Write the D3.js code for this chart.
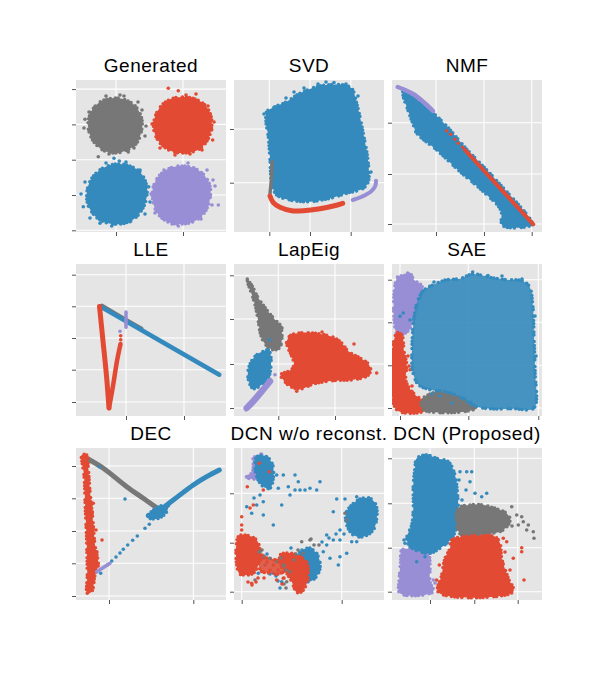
<!DOCTYPE html>
<html>
<head>
<meta charset="utf-8">
<script src="https://cdn.jsdelivr.net/npm/d3@7"></script>
<style>
body { margin: 0; background: #fff; }
text { font-family: "Liberation Sans", Arial, sans-serif; }
</style>
</head>
<body>
<svg id="fig" width="602" height="676"></svg>
<script>
// values; each panel uses units x 0..150, y 0..152

// --- Generated
var genXTicks = [40, 107];
var genYTicks = [1.7, 37, 72.3, 107.6, 142.9];
var genGrey = [[39,134],[52,131],[61,124],[66,112],[65,99],[60,88],[49,81],[37,79],[25,83],[16,93],[12,106],[15,120],[24,130]];
var genGreyDots = [[22.3,75.3],[44,137],[70,106],[9,112.7],[52.3,80],[30,136],[66,122],[13,120],[58,84],[33,78],[69,96],[48,136],[8,104],[62,130]];
var genRed = [[106,135],[119,133],[129,127],[135,116],[135.5,104],[131,91],[122,82],[108,79],[95,81],[84,89],[78,101],[79,115],[86,127],[95,133]];
var genRedDots = [[92.3,143.7],[102.3,141.3],[135.7,102],[136.7,92],[99,77],[138,110],[81,95],[120,138],[76,108],[84,84],[126,82],[132,126],[114,78],[110,137]];
var genBlue = [[41,68],[54,66],[64,60],[70,49],[71,37],[67,24],[58,13],[45,8],[31,9],[20,15],[12,27],[11,41],[16,54],[27,64]];
var genBlueDots = [[38,73.7],[7.3,25.3],[24,8.7],[35.7,6],[54,10.3],[64,62],[72.7,45.3],[43.3,71],[5,38],[74,30],[14,14],[69,18],[30,69],[50,70],[9,50]];
var genPurple = [[106,66],[118,64],[128,57],[134,46],[134,33],[129,20],[119,11],[105,8],[92,10],[82,18],[77,30],[77,44],[83,56],[94,64]];
var genPurpleDots = [[142.3,27],[139,46],[136,27],[102.3,6],[79,19],[112,69],[137,52],[75,38],[88,62],[125,13],[131,62],[96,8],[81,52]];

// --- SVD
var svdXTicks = [35.3, 76, 116.7];
var svdYTicks = [49.3, 103];
var svdBlue = [[32.7,120.3],[41,125.3],[52.7,130.3],[62.7,137],[69.3,140.3],[82.7,145.3],[92.7,147],[109.3,147],[117.7,143.7],[122.7,128.7],[129.3,98.7],[134.3,68.7],[134.3,50.3],[129.3,43.7],[112.7,38.7],[96,33.7],[76,30.3],[56,32],[42.7,37],[37.7,48.7],[36,72],[34.3,95.3],[32,110.3]];
var svdBlueDots = [[70,144],[84,148],[100,149.5],[112,148],[60,140],[124,136],[52,134],[92,150],[137,60],[30,118]];
var svdGrey = [[38.3,70.3],[37,48.7],[36,38.7]];
var svdRed = [[36,36],[39.3,29.3],[46,24.7],[57.7,21.3],[69.3,21.3],[86,23.3],[99.3,26],[108.7,28.7]];
var svdPurple = [[118.7,32],[127.7,35.3],[136.7,40.3],[141.3,46],[142,51.3]];

// --- NMF
var nmfXTicks = [44, 92, 139.7];
var nmfYTicks = [8, 58, 109.3];
var nmfBlue = [[11.3,142],[21.3,135.3],[38,122],[54.7,106],[73,84.7],[104.7,51.3],[139.7,10.3],[139.7,7],[110.7,6.3],[108.7,22],[91.3,40.3],[68,60.3],[44.7,82],[24.7,98.7],[21.3,107],[14.7,125.3],[11.3,135.3]];
var nmfPurple = [[5.7,145],[12,142.5],[22,137.5],[32,129.5],[41,121]];
var nmfRedDots = [[54.7,101.3],[58.7,97.7],[63,92.7],[66.3,88.7],[70.7,84.7]];
var nmfRed = [[73,82],[141.3,7.7]];

// --- LLE
var lleXTicks = [50, 108];
var lleYTicks = [14, 46.3, 78, 109.7, 141.3];
var lleGrey = [[26,111],[45,99.8],[66,87.8]];
var lleBlue = [[24,109.7],[143.3,41.3]];
var lleRedLeft = [[23.5,109.5],[27,75],[30.5,40],[33,8]];
var lleRedRight = [[33,8],[37,30],[41,55],[44.5,72]];
var lleRedDots = [[44.7,76.3],[44.7,80.3]];
var llePurple = [[50,104],[50,88.7]];
var llePurpleDots = [[44,84.7]];

// --- LapEig
var lapXTicks = [44.3, 101];
var lapYTicks = [8, 52, 97, 140.7];
var lapGrey = [[13.3,136.3],[18.3,129.7],[24.3,118],[32.7,106.3],[41,96.3],[46,91.3],[48,79.7],[45.3,68],[38.7,66.3],[31,72],[26.7,81.3],[24.3,94.7],[21,111.3],[16.7,124.7],[14.3,131.3]];
var lapGreyDots = [[13.3,137],[48,88],[47,72]];
var lapBlue = [[29.3,64.7],[34.3,66.3],[36.7,60.7],[36.7,48],[34.3,38],[27.7,31.3],[19.3,27.3],[15,34],[14,44.7],[17.7,55.3],[23.3,61.7]];
var lapBlueDots = [[35.3,76.3]];
var lapPurple = [[12.7,8],[19.3,14.7],[27.7,24.7],[36,34.7]];
var lapPurpleDots = [[41,41.3],[12,6.3]];
var lapRed = [[52.7,74],[56.7,80.7],[69.3,83.3],[86,82],[99.3,78.7],[107.7,73],[114.3,64.7],[126,58],[134.3,52],[136.7,45.3],[132.7,39.7],[119.3,36.3],[99.3,35.3],[79.3,32],[67.7,27.3],[57.7,28.7],[50,35.3],[46.7,41.3],[54.3,44.7],[58,47],[60,52],[57,61.3],[54.3,67.3]];
var lapRedDots = [[142.7,43],[62.7,24.7],[53,40],[120,72],[88,84]];

// --- SAE
var saeXTicks = [8, 76.3, 146.3];
var saeYTicks = [8, 50.7, 93.7, 136.3];
var saePurple = [[5.3,138.7],[13,140.7],[17.3,143.7],[22,136.3],[30,129.7],[28.7,119.7],[24,108],[22,98],[18,87.3],[10.7,81.3],[5.3,80.7]];
var saeRed = [[4.7,83],[9.7,81.3],[12,64.7],[14.7,51.3],[14,34.7],[21.3,23],[29.7,16.3],[36.3,11.3],[36.3,6.3],[4.7,6.3]];
var saeRedDots = [[18,46.3],[17,50],[40,9],[20,30],[16,60]];
var saeGrey = [[29.7,16.3],[38,22],[48,24.7],[59.7,21.3],[69.7,18],[79.7,13],[83,7.3],[31.3,6.3]];
var saeBlue = [[24,109.7],[30.7,124.7],[41.3,131.3],[54.7,136.3],[68,137.3],[80.7,142],[98,138.7],[114.7,136.3],[129.7,135.3],[137.3,129.7],[140.7,111.3],[142,78],[143,44.7],[142,8],[121.3,7.3],[98,7.3],[83,9.7],[69.7,18],[54.7,24],[38,26.3],[26.3,31.3],[20.7,44.7],[20,68],[21.3,91.3]];
var saeBlueDots = [[8,99.7],[11.3,103],[80.7,144],[40,22],[48,20],[60,13],[18,96],[96,140.5],[130,137],[144,60],[143,100],[42,134],[110,140]];

// --- DEC
var decXTicks = [33, 117.3];
var decYTicks = [4, 36.7, 69, 101.7, 134];
var decGrey = [[10.7,141.7],[27.3,131.7],[50.7,113.3],[67.3,101.7],[80.7,92.3]];
var decBlue = [[72.3,84.3],[80.7,87.7],[97.3,100],[117.3,115],[130.7,123.3],[143.3,130]];
var decBlueJoin = [[73,86],[82,93],[92,95],[90,87],[80,81],[71,83]];
var decBlueDots = [[69,71.7],[73.3,75.7],[61.3,64],[56.7,59.7],[51.7,55],[47.3,50.7],[44,47],[40,43],[35.7,39],[31.3,35],[24.7,26.7],[49,101],[23.3,133.3]];
var decRed = [[5.7,145],[10.7,145],[12.3,131.7],[14,108.3],[16.7,81.7],[19,55],[22.3,35],[19,25],[15.7,8.3],[11.3,6.7],[11.3,25],[10.7,58.3],[9.3,91.7],[8,125],[6,138.3]];
var decRedDots = [[26,60],[17.3,96.7],[16.3,88.3],[20,70],[21,48]];
var decPurple = [[20.7,28.3],[34,36.7]];

// --- DCN w/o reconst.
var dcnXTicks = [7.7, 107.7];
var dcnYTicks = [8.3, 57.3, 106.7];
var dcnPurple = [[19.3,141.7],[27.7,145.7],[28.7,138.3],[24.3,130],[22.7,121.7],[14.3,121.7],[12,124.3],[17.7,126.7],[19.3,133.3]];
var dcnBlueTop = [[22.7,143.3],[32.7,143.3],[38.7,135],[39.3,121.7],[36,111.7],[29.3,113.3],[23.3,121.7],[21,133.3]];
var dcnRedTopDots = [[25.3,136.7],[29.3,110],[35.3,128.3],[13.3,113.3]];
var dcnBlueRight = [[117.7,95],[126,101],[136,101.7],[142,95],[142.7,81.7],[139.3,70],[129.3,63.3],[119.3,65],[112.7,75],[112,86.7]];
var dcnBlueDots = [[42.7,125],[49.3,125],[61,125],[64.3,118.3],[71,110],[54.3,113.3],[86,118.3],[82.7,110],[76,111.7],[44.3,111.7],[26,105],[22.7,95],[12.7,93.3],[17.7,86.7],[29.3,85],[39.3,75],[47.7,95],[56,105],[61,110],[29.3,98.3],[66,110],[102.7,101],[111,101],[122.7,103.3],[99.3,88.3],[92.7,65],[106,60],[99.3,60],[92.7,55],[89.3,48.3],[82.7,46.7],[106,43.3],[112.7,46.7],[117.7,58.3],[122.7,58.3],[104.3,35],[96,41.7],[27.7,41.7],[31,35],[39.3,26.7],[47.7,18.3],[24.3,26.7],[33,46],[20,102],[106,70],[110,66],[30,42],[36,26],[42,24],[46,12],[44,19],[52,33],[53,44],[22,40],[57,52],[88,58],[95,62],[102,66]];
var dcnRedLeft = [[4.3,63.3],[11,65],[22.7,60],[26,48.3],[24.3,35],[19.3,26.7],[11,25],[5,26.7]];
var dcnRedMix = [[25,44],[33,42],[42,40],[50,37],[51,30],[45,26],[35,27],[27,29]];
var dcnBlueMid = [[66,48.3],[76,51.7],[84.3,43.3],[86,31.7],[81,21.7],[73.3,18.3],[66,35]];
var dcnRedMid = [[46,45],[57.7,46.7],[66,43.3],[72.7,38.3],[73.3,18.3],[67.7,8.3],[62.7,7.7],[57.7,18.3],[52.7,26.7],[47.7,33.3]];
var dcnGreyDots = [[67.7,58.3],[76,60],[26,48.3],[36,41.7],[42.7,38.3],[49.3,35],[21,20],[52.7,18.3],[111,86.7],[112.7,80],[56,28.3],[69.3,46.7],[30,44],[60,40],[64,50],[80,55],[25,48],[28,50],[47,42],[50,34],[52,30],[50,16],[52,12],[77,61],[85,55],[62,46]];
var dcnRedDots = [[7.7,83.3],[7.7,75],[19.3,95],[29.3,28.3],[36,30],[39.3,35],[49.3,21.7],[42.7,20],[17.7,16.7],[64.3,11.7],[7.7,70],[28,45],[33,38],[40,40],[16,92],[30,22],[27,40],[44,30],[47,27],[45,38],[50,22],[48,16],[18,15],[22,18],[24,22],[14,18]];

// --- DCN (Proposed)
var propXTicks = [38, 82.3, 125.7];
var propYTicks = [8.3, 52.3, 96.7, 141.7];
var propPurple = [[9.7,50],[19.7,51],[29.7,50],[36.3,46.7],[38,35],[38,18.3],[41.3,8.3],[8,6.7],[7.3,21.7],[8.7,38.3]];
var propPurpleDots = [[41.3,20],[43,17]];
var propBlue = [[24.7,141.7],[34.7,145],[44.7,141.7],[56.3,138.3],[63,125],[65.3,108.3],[66.3,91.7],[65.3,75],[59.7,61.7],[48,51.7],[38,46.7],[28,48.3],[18,53.3],[14.7,61.7],[19.7,75],[21.3,91.7],[21.3,115],[23,131.7]];
var propBlueDots = [[68,128.3],[74.7,128.3],[79.7,128.3],[78,118.3],[83,106.7],[89.7,103.3],[94.7,106.7],[74,110],[13,56.7],[24.7,38.3],[33,43.3],[69.7,65],[67,120],[70,100],[12,60]];
var propGrey = [[66.3,91.7],[78,95],[91.3,95],[103,91.7],[113,87.7],[118,81.7],[116.3,75],[108,68.3],[98,66.7],[84.7,65],[71.3,63.3],[65.3,71.7]];
var propGreyDots = [[119.7,93.3],[124.7,85],[129.7,83.3],[131.3,78.3],[136.3,75],[141.3,68.3],[142,61.7],[134.7,70],[126.3,75],[120,74]];
var propRed = [[59.7,60],[71.3,63.3],[88,64.3],[103,63.3],[108,56.7],[109.7,41.7],[116.3,21.7],[121.3,8.3],[46.3,7.7],[49.7,25],[53,41.7],[58,51.7]];
var propRedDots = [[129.7,52.3],[129.7,48.3],[132,20],[111.3,61.7],[114.7,58.3],[121.3,41.7],[44.7,20],[47.3,35],[118,30],[113,48]];

var C = { red: "#E24A33", blue: "#348ABD", purple: "#988ED5", grey: "#777777" };

// [kind, data, colour, band width, fill opacity]
var panels = [
	{ title: "Generated", xt: genXTicks, yt: genYTicks, layers: [
		["blob", genGrey, "grey"], ["dots", genGreyDots, "grey"],
		["blob", genRed, "red"], ["dots", genRedDots, "red"],
		["blob", genBlue, "blue"], ["dots", genBlueDots, "blue"],
		["blob", genPurple, "purple"], ["dots", genPurpleDots, "purple"]] },
	{ title: "SVD", xt: svdXTicks, yt: svdYTicks, layers: [
		["blob", svdBlue, "blue"], ["dots", svdBlueDots, "blue"],
		["band", svdGrey, "grey", 3.5], ["band", svdRed, "red", 5], ["band", svdPurple, "purple", 4]] },
	{ title: "NMF", xt: nmfXTicks, yt: nmfYTicks, layers: [
		["blob", nmfBlue, "blue"], ["band", nmfPurple, "purple", 4.5],
		["dots", nmfRedDots, "red"], ["band", nmfRed, "red", 4]] },
	{ title: "LLE", xt: lleXTicks, yt: lleYTicks, layers: [
		["band", lleGrey, "grey", 3], ["band", lleBlue, "blue", 4.5],
		["band", lleRedLeft, "red", 5], ["band", lleRedRight, "red", 4.5], ["dots", lleRedDots, "red"],
		["band", llePurple, "purple", 3.5], ["dots", llePurpleDots, "purple"]] },
	{ title: "LapEig", xt: lapXTicks, yt: lapYTicks, layers: [
		["blob", lapGrey, "grey"], ["dots", lapGreyDots, "grey"],
		["blob", lapBlue, "blue"], ["dots", lapBlueDots, "blue"],
		["band", lapPurple, "purple", 6.5], ["dots", lapPurpleDots, "purple"],
		["blob", lapRed, "red"], ["dots", lapRedDots, "red"]] },
	{ title: "SAE", xt: saeXTicks, yt: saeYTicks, layers: [
		["blob", saePurple, "purple"], ["blob", saeRed, "red"], ["dots", saeRedDots, "red"],
		["blob", saeGrey, "grey"], ["blob", saeBlue, "blue", 0, 0.9], ["dots", saeBlueDots, "blue"]] },
	{ title: "DEC", xt: decXTicks, yt: decYTicks, layers: [
		["band", decGrey, "grey", 5], ["band", decBlue, "blue", 5], ["blob", decBlueJoin, "blue"],
		["dots", decBlueDots, "blue"], ["blob", decRed, "red"], ["dots", decRedDots, "red"],
		["band", decPurple, "purple", 3.5]] },
	{ title: "DCN w/o reconst.", xt: dcnXTicks, yt: dcnYTicks, layers: [
		["blob", dcnPurple, "purple"], ["blob", dcnBlueTop, "blue"], ["dots", dcnRedTopDots, "red"],
		["blob", dcnBlueRight, "blue"], ["dots", dcnBlueDots, "blue"],
		["blob", dcnRedLeft, "red"], ["blob", dcnRedMix, "red", 0, 0.85],
		["blob", dcnBlueMid, "blue"], ["blob", dcnRedMid, "red"],
		["dots", dcnGreyDots, "grey"], ["dots", dcnRedDots, "red"]] },
	{ title: "DCN (Proposed)", xt: propXTicks, yt: propYTicks, layers: [
		["blob", propPurple, "purple"], ["dots", propPurpleDots, "purple"],
		["blob", propBlue, "blue"], ["dots", propBlueDots, "blue"],
		["blob", propGrey, "grey"], ["dots", propGreyDots, "grey"],
		["blob", propRed, "red"], ["dots", propRedDots, "red"]] }
];

var svg = d3.select("#fig");
var W = 150, H = 152;

panels.forEach(function(p, i)
{
	var left = 76 + (i % 3) * 158;
	var top = 80 + Math.floor(i / 3) * 184;
	var x = d3.scaleLinear().domain([0, 150]).range([left, left + W]);
	var y = d3.scaleLinear().domain([0, 152]).range([top + H, top]);
	var g = svg.append("g");

	g.append("clipPath").attr("id", "clip" + i).append("rect")
		.attr("x", left).attr("y", top).attr("width", W).attr("height", H);

	g.append("rect").attr("x", left).attr("y", top).attr("width", W).attr("height", H)
		.attr("fill", "#E5E5E5");

	// white grid on the tick positions
	g.selectAll("line.gx").data(p.xt).enter().append("line")
		.attr("x1", function(d) { return x(d); }).attr("x2", function(d) { return x(d); })
		.attr("y1", top).attr("y2", top + H)
		.attr("stroke", "#fff").attr("stroke-width", 1.1);
	g.selectAll("line.gy").data(p.yt).enter().append("line")
		.attr("y1", function(d) { return y(d); }).attr("y2", function(d) { return y(d); })
		.attr("x1", left).attr("x2", left + W)
		.attr("stroke", "#fff").attr("stroke-width", 1.1);

	// ticks without labels
	var ax = g.append("g").attr("transform", "translate(0," + (top + H) + ")")
		.call(d3.axisBottom(x).tickValues(p.xt).tickFormat("").tickSize(4).tickSizeOuter(0));
	var ay = g.append("g").attr("transform", "translate(" + left + ",0)")
		.call(d3.axisLeft(y).tickValues(p.yt).tickFormat("").tickSize(4).tickSizeOuter(0));
	[ax, ay].forEach(function(a)
	{
		a.select(".domain").remove();
		a.selectAll("line").attr("stroke", "#555").attr("stroke-width", 1);
	});

	var marks = g.append("g").attr("clip-path", "url(#clip" + i + ")");
	var blobLine = d3.line().x(function(d) { return x(d[0]); }).y(function(d) { return y(d[1]); })
		.curve(d3.curveCatmullRomClosed.alpha(0.5));
	var bandLine = d3.line().x(function(d) { return x(d[0]); }).y(function(d) { return y(d[1]); })
		.curve(d3.curveCatmullRom.alpha(0.5));

	p.layers.forEach(function(l)
	{
		var col = C[l[2]];
		if (l[0] == "blob")
		{
			marks.append("path").datum(l[1]).attr("d", blobLine)
				.attr("fill", col).attr("fill-opacity", l[4] == null ? 1 : l[4]).attr("stroke", "none");
			// uneven dotted rim so the edge reads as loose markers
			marks.append("path").datum(l[1]).attr("d", blobLine)
				.attr("fill", "none").attr("stroke", col).attr("stroke-width", 3.6)
				.attr("stroke-linecap", "round").attr("stroke-dasharray", "0 3.4 0 5.2 0 2.8 0 6.6 0 4.1 0 3");
		}
		else if (l[0] == "band")
		{
			marks.append("path").datum(l[1]).attr("d", bandLine)
				.attr("fill", "none").attr("stroke", col).attr("stroke-width", l[3])
				.attr("stroke-linecap", "round").attr("stroke-linejoin", "round");
		}
		else
		{
			marks.selectAll(null).data(l[1]).enter().append("circle")
				.attr("cx", function(d) { return x(d[0]); })
				.attr("cy", function(d) { return y(d[1]); })
				.attr("r", 1.8).attr("fill", col);
		}
	});

	g.append("text").attr("x", left + W / 2).attr("y", top - 8)
		.attr("text-anchor", "middle").attr("font-size", 19).attr("letter-spacing", 0.5)
		.attr("fill", "#000").text(p.title);
});
</script>
</body>
</html>
